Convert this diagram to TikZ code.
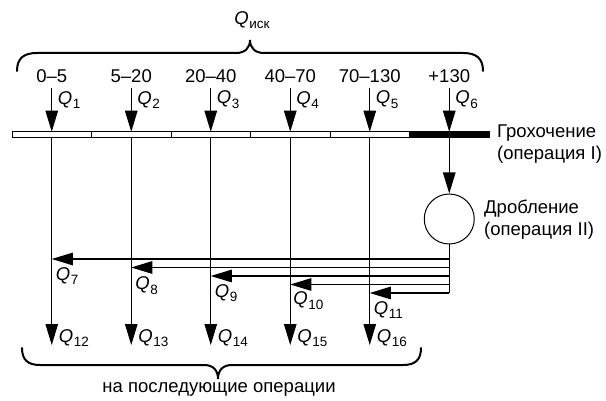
\documentclass[tikz,border=0pt]{standalone}
\usepackage{fontspec}
\setmainfont{Liberation Sans}
\usetikzlibrary{arrows.meta}

% Q with a lowered index, in the sans-serif text font
\newcommand{\Qidx}[1]{\textit{Q}\kern0.6pt\raisebox{-0.45ex}{\fontsize{13.5}{14}\selectfont #1}}

\begin{document}
\begin{tikzpicture}[x=1pt, y=-1pt,
  font=\fontsize{18.5}{22}\selectfont,
  flow/.style={-{Triangle[length=21pt,width=12.5pt]}, line width=1.1pt},
  cell/.style={draw, line width=0.8pt, fill=white, minimum width=79.5pt,
               minimum height=5.5pt, inner sep=0pt, outer sep=0pt},
  blackcell/.style={cell, fill=black},
  qlbl/.style={inner sep=0pt, anchor=west},
  txt/.style={inner sep=0pt},
  bracepath/.style={line width=2pt, line cap=round}]
\useasboundingbox (0,0) rectangle (606,401);

% screen deck: five open sections and the oversize section
\node[cell]      (s1) at (51.75,134.5) {};
\node[cell]      (s2) at (131.25,134.5) {};
\node[cell]      (s3) at (210.75,134.5) {};
\node[cell]      (s4) at (290.25,134.5) {};
\node[cell]      (s5) at (369.75,134.5) {};
\node[blackcell] (s6) at (449.25,134.5) {};

% size classes
\node[txt] (k1) at (51.75,76)  {0–5};
\node[txt] (k2) at (131.25,76) {5–20};
\node[txt] (k3) at (210.75,76) {20–40};
\node[txt] (k4) at (290.25,76) {40–70};
\node[txt] (k5) at (369.75,76) {70–130};
\node[txt] (k6) at (449.25,76) {+130};

% feed arrows (shifts are in canvas terms: positive yshift is upward)
\foreach \i in {1,...,6} {
  \coordinate (t\i) at ([yshift=44pt]s\i.north);
  \draw[flow] (t\i) -- (s\i.north);
  \node[qlbl] (q\i) at ([xshift=6pt, yshift=32pt]s\i.north) {\Qidx{\i}};
}

% crusher
\node[circle, draw, line width=1pt, minimum size=50pt, inner sep=0pt] (crush) at (449.25,219) {};
\draw[flow] (s6.south) -- (crush.north);

% return lines from the crusher
\coordinate (r7)  at (449.25,259);
\coordinate (r8)  at (449.25,267.5);
\coordinate (r9)  at (449.25,276);
\coordinate (r10) at (449.25,284.5);
\coordinate (r11) at (449.25,293);
\draw[line width=1.1pt] (crush.south) -- (r11);
\draw[flow] (r7)  -- (s1.south |- r7);
\draw[flow] (r8)  -- (s2.south |- r8);
\draw[flow] (r9)  -- (s3.south |- r9);
\draw[flow] (r10) -- (s4.south |- r10);
\draw[flow] (r11) -- (s5.south |- r11);
\node[qlbl] (q7)  at ([xshift=4pt, yshift=-17pt]s1.south |- r7)  {\Qidx{7}};
\node[qlbl] (q8)  at ([xshift=4pt, yshift=-18pt]s2.south |- r8)  {\Qidx{8}};
\node[qlbl] (q9)  at ([xshift=4pt, yshift=-17pt]s3.south |- r9)  {\Qidx{9}};
\node[qlbl] (q10) at ([xshift=3pt, yshift=-16pt]s4.south |- r10) {\Qidx{10}};
\node[qlbl] (q11) at ([xshift=4pt, yshift=-17pt]s5.south |- r11) {\Qidx{11}};

% product arrows
\foreach \i/\n in {1/12,2/13,3/14,4/15,5/16} {
  \coordinate (o\i) at (s\i.south |- 0,345);
  \draw[flow] (s\i.south) -- (o\i);
  \node[qlbl] (q\n) at ([xshift=7pt, yshift=7pt]o\i) {\Qidx{\n}};
}

% operation names
\node[txt, anchor=west, align=left] (op1) at (497,144) {Грохочение\\(операция I)};
\node[txt, anchor=west, align=left] (op2) at (484,220) {Дробление\\(операция II)};

% braces
\draw[bracepath] (17,71) .. controls (17,58) and (24,53) .. (37,53) -- (236,53)
  .. controls (245,53) and (250,48) .. (250,40)
  .. controls (250,48) and (255,53) .. (264,53) -- (463,53)
  .. controls (476,53) and (483,58) .. (483,71);
\node[txt] (qin) at (252,20) {\Qidx{иск}};

\draw[bracepath] (22,348) .. controls (22,360) and (28,365) .. (40,365) -- (204,365)
  .. controls (213,365) and (218,370) .. (218,379)
  .. controls (218,370) and (223,365) .. (232,365) -- (403,365)
  .. controls (415,365) and (421,360) .. (421,348);
\node[txt] (next) at (219,389) {на последующие операции};
\end{tikzpicture}
\end{document}
